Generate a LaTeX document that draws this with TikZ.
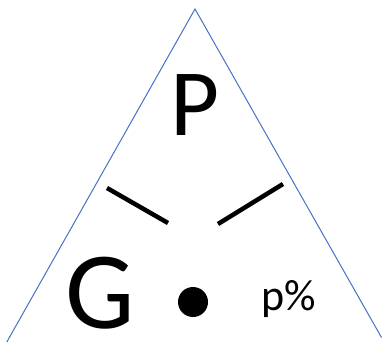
\documentclass[tikz,border=0pt]{standalone}
\usepackage{fontspec}
\setmainfont{Carlito}
\definecolor{triblue}{HTML}{4472C4}
\begin{document}
\begin{tikzpicture}[x=1pt,y=-1pt,
  edge/.style={draw=triblue,line width=1pt},
  bar/.style={draw=black,line width=4.5pt},
  lbl/.style={inner sep=0pt,anchor=base}]
\useasboundingbox (0,0) rectangle (382,342);
\coordinate (apex) at (195,9);
\coordinate (bl) at (6.8,342);
\coordinate (br) at (381.5,337.5);
\draw[edge] (bl) -- (apex) -- (br);
\coordinate (l1) at (107,188);
\coordinate (l2) at (168,223);
\coordinate (r1) at (218,224);
\coordinate (r2) at (283,184);
\draw[bar] (l1) -- (l2);
\draw[bar] (r1) -- (r2);
\node[lbl] (P) at (195,135) {\fontsize{95}{95}\selectfont P};
\node[lbl] (G) at (100,328) {\fontsize{110}{110}\selectfont G};
\fill (193,302) circle (15);
\node[lbl,anchor=base west] (pp) at (261,310) {\fontsize{44}{44}\selectfont p\%};
\end{tikzpicture}
\end{document}
